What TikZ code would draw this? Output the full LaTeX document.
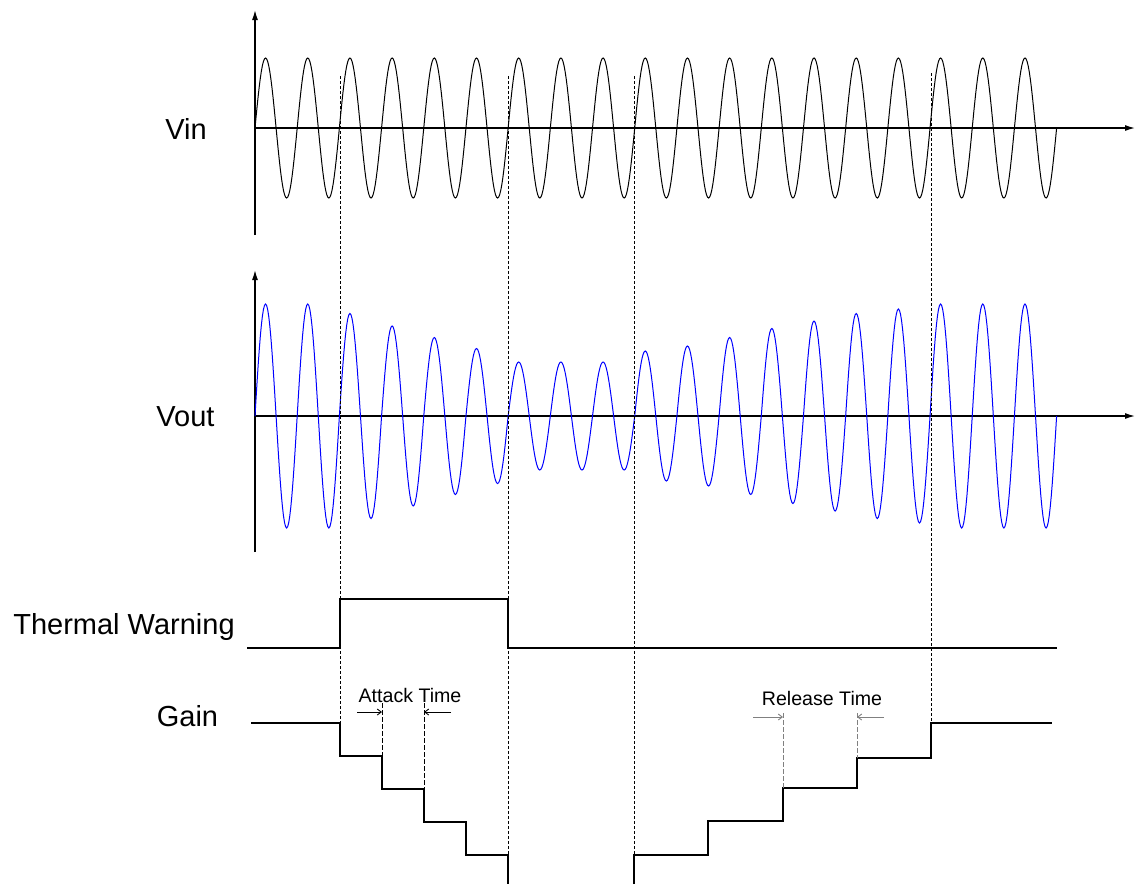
\documentclass[tikz,border=0pt]{standalone}
\usepackage{fontspec}
\setmainfont{Liberation Sans}
\usetikzlibrary{arrows.meta}

\tikzstyle{siglabel} = [font=\fontsize{14.5}{17}\selectfont,anchor=base,inner sep=0pt]
\tikzstyle{timelabel} = [font=\fontsize{9.8}{12}\selectfont,anchor=base,inner sep=0pt]
\tikzstyle{axisline} = [line width=0.65pt,-{Latex[length=5pt,width=3pt]}]
\tikzstyle{wave} = [line width=0.5pt]
\tikzstyle{level} = [line width=1pt]
\tikzstyle{timeline} = [line width=0.4pt,dash pattern=on 1.5pt off 1pt]
\tikzstyle{guide} = [line width=0.45pt,dash pattern=on 2.5pt off 1pt]
\tikzstyle{span} = [line width=0.45pt,-{Straight Barb[length=2pt,width=3pt]}]

\begin{document}
\begin{tikzpicture}[x=0.5pt,y=-0.5pt]
	\useasboundingbox (0,0) rectangle (1135,884);
	% signal names
	\node (vin) [siglabel] at (186,139) {Vin};
	\node (vout) [siglabel] at (185.5,426.7) {Vout};
	\node (warn) [siglabel] at (124,634) {Thermal Warning};
	\node (gain) [siglabel] at (187.5,726) {Gain};
	% Vin
	\draw [axisline] (255,235) -- (255,10);
	\draw [axisline] (255,128) -- (1135,128);
	\draw [wave] plot[domain=0:801.7,samples=761] ({255+\x},{128-70*sin(\x/42.19*360)});
	% Vout
	\draw [axisline] (255,552) -- (255,270);
	\draw [axisline] (255,416) -- (1135,416);
	\foreach \a [count=\i from 0] in {112,112,102.5,90,78.5,67.5,54,54,54,65,70,78.5,87.5,95,102.5,107,112,112,112}
		\draw [wave,blue] plot[domain=0:42.19,samples=41] ({255+\i*42.19+\x},{416-\a*sin(\x/42.19*360)});
	% event times
	\draw [timeline] (340,76) -- (340,723);
	\draw [timeline] (508,76) -- (508,855);
	\draw [timeline] (634,76) -- (634,855);
	\draw [timeline] (931,73) -- (931,723);
	% thermal warning
	\draw [level] (247,648) -- (340,648) -- (340,599) -- (508,599) -- (508,648) -- (1057,648);
	% gain
	\draw [level] (251,723) -- (340,723) -- (340,756) -- (382,756) -- (382,789) -- (424,789) -- (424,822) -- (466,822) -- (466,855) -- (508,855) -- (508,884);
	\draw [level] (634,884) -- (634,855) -- (708,855) -- (708,821) -- (783,821) -- (783,788) -- (857,788) -- (857,758) -- (931,758) -- (931,723) -- (1052,723);
	% attack time
	\node (attack) [timelabel] at (410,702) {Attack Time};
	\draw [guide] (382,703) -- (382,756);
	\draw [guide] (424,703) -- (424,789);
	\draw [span] (357,712) -- (382,712);
	\draw [span] (451,712) -- (424,712);
	% release time
	\node (release) [timelabel] at (822,705.5) {Release Time};
	\draw [guide,gray] (783,713) -- (783,788);
	\draw [guide,gray] (857,713) -- (857,758);
	\draw [span,gray] (753,717) -- (783,717);
	\draw [span,gray] (884,717) -- (857,717);
\end{tikzpicture}
\end{document}
